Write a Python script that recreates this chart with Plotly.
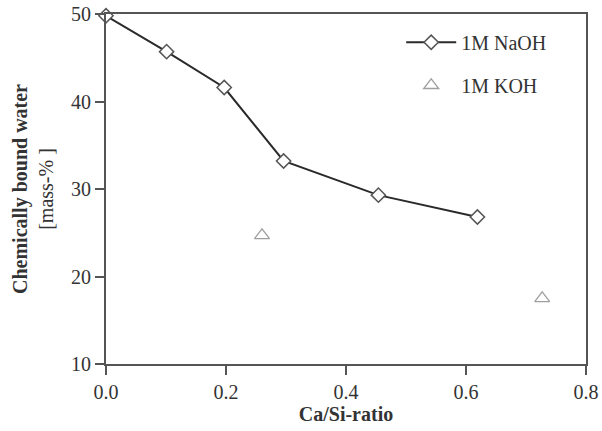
import plotly.graph_objects as go

naoh_x = [0.0, 0.101, 0.197, 0.296, 0.454, 0.619]
naoh_y = [49.8, 45.7, 41.6, 33.2, 29.3, 26.8]
koh_x = [0.26, 0.727]
koh_y = [24.7, 17.5]

x_ticks = [0.0, 0.2, 0.4, 0.6, 0.8]
x_labels = ["0.0", "0.2", "0.4", "0.6", "0.8"]
y_ticks = [10, 20, 30, 40, 50]

font = "Liberation Serif, Times New Roman, serif"
axis_color = "#555555"
text_color = "#333333"

fig = go.Figure()
fig.add_trace(go.Scatter(
    x=naoh_x, y=naoh_y, mode="lines+markers", name="1M NaOH",
    line=dict(color="#2a2a2a", width=2),
    marker=dict(symbol="diamond", size=11, color="white",
                line=dict(color="#555555", width=1.5)),
    legendgroup="a", cliponaxis=False,
))
fig.add_trace(go.Scatter(
    x=koh_x, y=koh_y, mode="markers", name="1M KOH",
    marker=dict(symbol="triangle-up-open", size=13, color="#a0a0a0",
                line=dict(width=1.3)),
    legendgroup="b", cliponaxis=False,
))

fig.update_layout(
    width=602, height=431,
    margin=dict(l=106, r=16, t=14, b=67),
    paper_bgcolor="white", plot_bgcolor="white",
    font=dict(family=font, size=20, color=text_color),
    showlegend=True,
    legend=dict(x=0.615, y=0.975, xanchor="left", yanchor="top",
                bgcolor="rgba(0,0,0,0)", font=dict(size=20, color=text_color),
                tracegroupgap=14, traceorder="grouped", itemwidth=50),
    xaxis=dict(range=[0, 0.8], tickvals=x_ticks, ticktext=x_labels,
               showgrid=False, zeroline=False, automargin=False,
               showline=True, linecolor=axis_color, linewidth=2, mirror=True,
               ticks="outside", ticklen=9, tickwidth=2, tickcolor=axis_color,
               title=dict(text="<b>Ca/Si-ratio</b>", font=dict(size=20, color=text_color), standoff=2)),
    yaxis=dict(range=[10, 50], tickvals=y_ticks,
               showgrid=False, zeroline=False, automargin=False,
               showline=True, linecolor=axis_color, linewidth=2, mirror=True,
               ticks="outside", ticklen=9, tickwidth=2, tickcolor=axis_color,
               title=dict(text="<b>Chemically bound water</b><br>[mass-% ]",
                          font=dict(size=20, color=text_color), standoff=12)),
)

fig.write_html("out.html")
